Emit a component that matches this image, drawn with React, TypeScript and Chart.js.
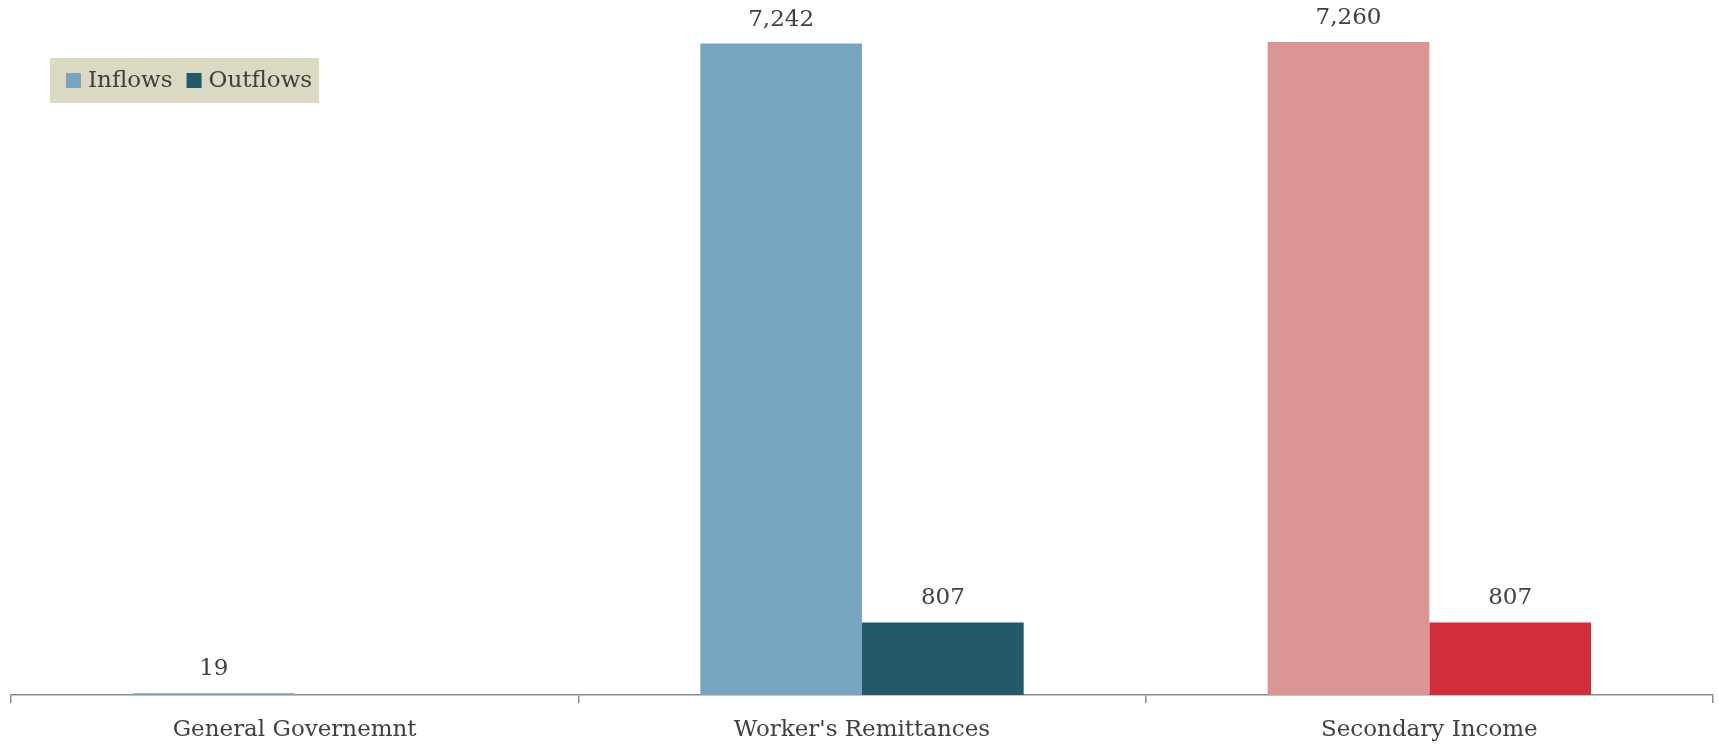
import React, { useEffect, useRef } from "react";
import { Chart, registerables } from "chart.js";

Chart.register(...registerables);

// Categories and series values
const categories = ["General Governemnt", "Worker's Remittances", "Secondary Income"];
const inflows: (number | null)[] = [19, 7242, 7260];
const outflows: (number | null)[] = [null, 807, 807];
const inflowColors = ["#77A5C0", "#77A5C0", "#DA9594"];
const outflowColors = ["#225A69", "#225A69", "#D12E3C"];
const seriesNames = ["Inflows", "Outflows"];

const FONT = "'DejaVu Serif', 'Liberation Serif', serif";
const FONT_SIZE = 23;
const TEXT_COLOR = "#404040";
const AXIS_COLOR = "#8c8c8c";

// Value labels above every bar
const valueLabels = {
  id: "valueLabels",
  afterDatasetsDraw(chart: any) {
    const ctx = chart.ctx;
    ctx.save();
    ctx.font = `${FONT_SIZE}px ${FONT}`;
    ctx.fillStyle = TEXT_COLOR;
    ctx.textAlign = "center";
    ctx.textBaseline = "alphabetic";
    chart.data.datasets.forEach((ds: any, i: number) => {
      const meta = chart.getDatasetMeta(i);
      meta.data.forEach((el: any, j: number) => {
        const v = ds.data[j];
        if (v === null || v === undefined) return;
        ctx.fillText(v.toLocaleString("en-US"), el.x, el.y - 18);
      });
    });
    ctx.restore();
  },
};

// Legend drawn in a shaded box at the top-left corner
const boxedLegend = {
  id: "boxedLegend",
  afterDraw(chart: any) {
    const ctx = chart.ctx;
    const left = 50;
    const top = 58;
    const height = 45;
    const sw = 15;
    ctx.save();
    ctx.font = `${FONT_SIZE}px ${FONT}`;
    const items = chart.data.datasets.map((ds: any) => ({
      label: ds.label,
      color: Array.isArray(ds.backgroundColor) ? ds.backgroundColor[0] : ds.backgroundColor,
      w: ctx.measureText(ds.label).width,
    }));
    let width = 16;
    items.forEach((it: any, i: number) => {
      width += sw + 7 + it.w + (i < items.length - 1 ? 14 : 0);
    });
    width += 7;
    ctx.fillStyle = "#DCD9C3";
    ctx.fillRect(left, top, width, height);
    let x = left + 16;
    const cy = top + height / 2;
    items.forEach((it: any) => {
      ctx.fillStyle = it.color;
      ctx.fillRect(x, cy - sw / 2, sw, sw);
      x += sw + 7;
      ctx.fillStyle = TEXT_COLOR;
      ctx.textAlign = "left";
      ctx.textBaseline = "middle";
      ctx.fillText(it.label, x, cy + 1);
      x += it.w + 14;
    });
    ctx.restore();
  },
};

export default function App() {
  const canvasRef = useRef<HTMLCanvasElement | null>(null);

  useEffect(() => {
    if (!canvasRef.current) return;
    const chart = new Chart(canvasRef.current, {
      type: "bar",
      data: {
        labels: categories,
        datasets: [
          {
            label: seriesNames[0],
            data: inflows,
            backgroundColor: inflowColors,
            borderWidth: 0,
            categoryPercentage: 0.57,
            barPercentage: 1.0,
          },
          {
            label: seriesNames[1],
            data: outflows,
            backgroundColor: outflowColors,
            borderWidth: 0,
            categoryPercentage: 0.57,
            barPercentage: 1.0,
          },
        ],
      },
      options: {
        animation: false,
        responsive: true,
        maintainAspectRatio: false,
        layout: { padding: { left: 11, right: 5, top: 0, bottom: 0 } },
        plugins: {
          legend: { display: false },
          tooltip: { enabled: false },
        },
        scales: {
          x: {
            type: "category",
            offset: true,
            afterFit: (scale: any) => {
              scale.height = 50;
            },
            grid: {
              offset: true,
              drawOnChartArea: false,
              drawTicks: true,
              tickLength: 8,
              color: AXIS_COLOR,
              lineWidth: 1.5,
            },
            border: { display: true, color: AXIS_COLOR, width: 1.5 },
            ticks: {
              color: TEXT_COLOR,
              font: { family: FONT, size: FONT_SIZE },
              padding: 13,
            },
          },
          y: {
            display: false,
            min: 0,
            max: 7726,
          },
        },
      },
      plugins: [valueLabels, boxedLegend],
    });
    return () => chart.destroy();
  }, []);

  return (
    <div
      style={{
        position: "fixed",
        left: 0,
        top: 0,
        width: 1718,
        height: 745,
        background: "#ffffff",
      }}
    >
      <canvas ref={canvasRef} />
    </div>
  );
}
